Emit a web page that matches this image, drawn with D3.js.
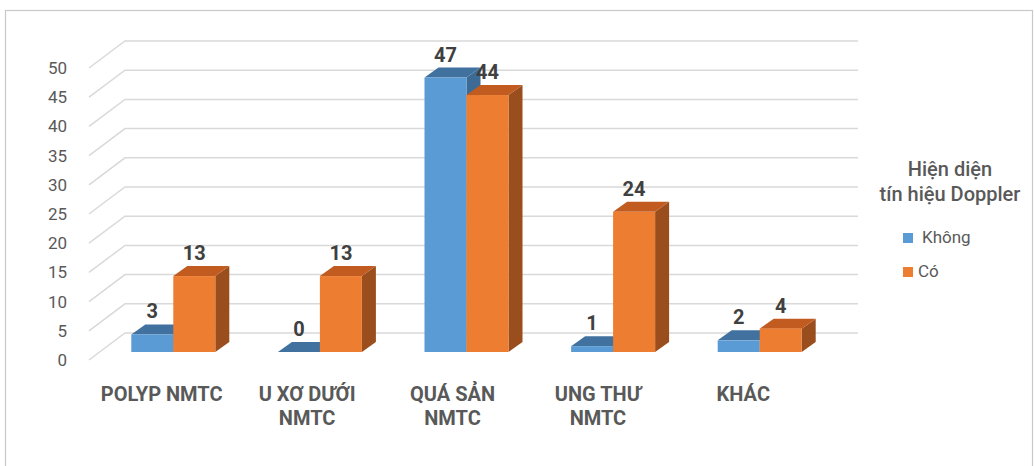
<!DOCTYPE html>
<html>
<head>
<meta charset="utf-8">
<script src="https://cdn.jsdelivr.net/npm/d3@7"></script>
<style>
  html, body { margin: 0; padding: 0; background: #fff; }
  svg { display: block; font-family: Roboto, "Liberation Sans", Arial, sans-serif; }
</style>
</head>
<body>
<svg id="chart" width="1034" height="466"></svg>
<script>
// ── Data ─────────────────────────────────────────────────────────────────
const categories = [
  ['POLYP NMTC'],
  ['U XƠ DƯỚI', 'NMTC'],
  ['QUÁ SẢN', 'NMTC'],
  ['UNG THƯ', 'NMTC'],
  ['KHÁC']
];
const khong = [3, 0, 47, 1, 2];
const co    = [13, 13, 44, 24, 4];
const yTicks = [0, 5, 10, 15, 20, 25, 30, 35, 40, 45, 50];
const legendTitle = ['Hiện diện', 'tín hiệu Doppler'];
const seriesNames = ['Không', 'Có'];

const svg = d3.select('#chart');
const W = 1034, H = 466;

// frame
svg.append('rect')
  .attr('x', 5.5).attr('y', 10.5).attr('width', W - 7).attr('height', H)
  .attr('fill', 'none').attr('stroke', '#c8c8c8').attr('stroke-width', 1.2);

// ── Scales ───────────────────────────────────────────────────────────────
const yBack  = d3.scaleLinear().domain([0, 50]).range([333, 41]);   // back wall
const yFront = d3.scaleLinear().domain([0, 50]).range([352, 60]);   // bar fronts
const x      = d3.scaleBand().domain(d3.range(5)).range([100, 833]);
const xLab   = d3.scaleBand().domain(d3.range(5)).range([89, 816]);

const wallDx = 36, wallDy = 27;  // side wall perspective
const depthX = 14, depthY = 10;  // bar depth
const barW = 42;

// ── Gridlines ────────────────────────────────────────────────────────────
const grid = svg.append('g');
yTicks.forEach(v => {
  const yb = yBack(v);
  grid.append('path')
    .attr('d', `M${125 - wallDx},${yb + wallDy} L125,${yb} L858,${yb}`)
    .attr('fill', 'none').attr('stroke', '#d9d9d9').attr('stroke-width', 1.5);
});

// y tick labels
svg.append('g').selectAll('text').data(yTicks).join('text')
  .attr('x', 67)
  .attr('y', d => yBack(d) + wallDy + 6)
  .attr('text-anchor', 'end')
  .attr('font-size', 17)
  .attr('fill', '#595959')
  .text(d => d);

// ── Bars ─────────────────────────────────────────────────────────────────
const series = [
  { vals: khong, front: '#5b9bd5', top: '#41729f', side: '#3d6b96', off: 0 },
  { vals: co,    front: '#ed7d31', top: '#c25b1f', side: '#9a4e1d', off: barW }
];

const barsG = svg.append('g');
categories.forEach((c, i) => {
  series.forEach(s => {
    const v = s.vals[i];
    const x0 = x(i) + x.bandwidth() / 2 - barW + s.off;
    const x1 = x0 + barW;
    const yt = yFront(v), yb = yFront(0);
    const g = barsG.append('g');
    // side
    g.append('path')
      .attr('d', `M${x1},${yt} L${x1 + depthX},${yt - depthY} L${x1 + depthX},${yb - depthY} L${x1},${yb} Z`)
      .attr('fill', s.side);
    // top
    g.append('path')
      .attr('d', `M${x0},${yt} L${x0 + depthX},${yt - depthY} L${x1 + depthX},${yt - depthY} L${x1},${yt} Z`)
      .attr('fill', s.top);
    // front
    if (v > 0) {
      g.append('rect')
        .attr('x', x0).attr('y', yt).attr('width', barW).attr('height', yb - yt)
        .attr('fill', s.front);
    }
  });
});

// value labels
series.forEach(s => {
  svg.append('g').selectAll('text').data(s.vals).join('text')
    .attr('x', (d, i) => x(i) + x.bandwidth() / 2 - barW / 2 + s.off)
    .attr('y', d => yFront(d) - 16)
    .attr('text-anchor', 'middle')
    .attr('font-size', 20)
    .attr('font-weight', 'bold')
    .attr('fill', '#404040')
    .text(d => d);
});

// category labels
const catG = svg.append('g').selectAll('text').data(categories).join('text')
  .attr('x', (d, i) => xLab(i) + xLab.bandwidth() / 2)
  .attr('y', 401)
  .attr('text-anchor', 'middle')
  .attr('font-size', 20)
  .attr('font-weight', 'bold')
  .attr('fill', '#595959');
catG.selectAll('tspan').data(d => d).join('tspan')
  .attr('x', function() { return d3.select(this.parentNode).attr('x'); })
  .attr('dy', (d, j) => j === 0 ? 0 : 24)
  .text(d => d);

// ── Legend ───────────────────────────────────────────────────────────────
const leg = svg.append('g');
legendTitle.forEach((t, j) => {
  leg.append('text')
    .attr('x', 950).attr('y', 176 + j * 25)
    .attr('text-anchor', 'middle')
    .attr('font-size', 20)
    .attr('font-weight', 500)
    .attr('fill', '#595959')
    .text(t);
});
seriesNames.forEach((n, j) => {
  const yy = 233 + j * 34;
  leg.append('rect')
    .attr('x', 903).attr('y', yy).attr('width', 10).attr('height', 10)
    .attr('fill', series[j].front);
  leg.append('text')
    .attr('x', j === 0 ? 922 : 918).attr('y', yy + 10)
    .attr('font-size', 17)
    .attr('fill', '#595959')
    .text(n);
});
</script>
</body>
</html>
